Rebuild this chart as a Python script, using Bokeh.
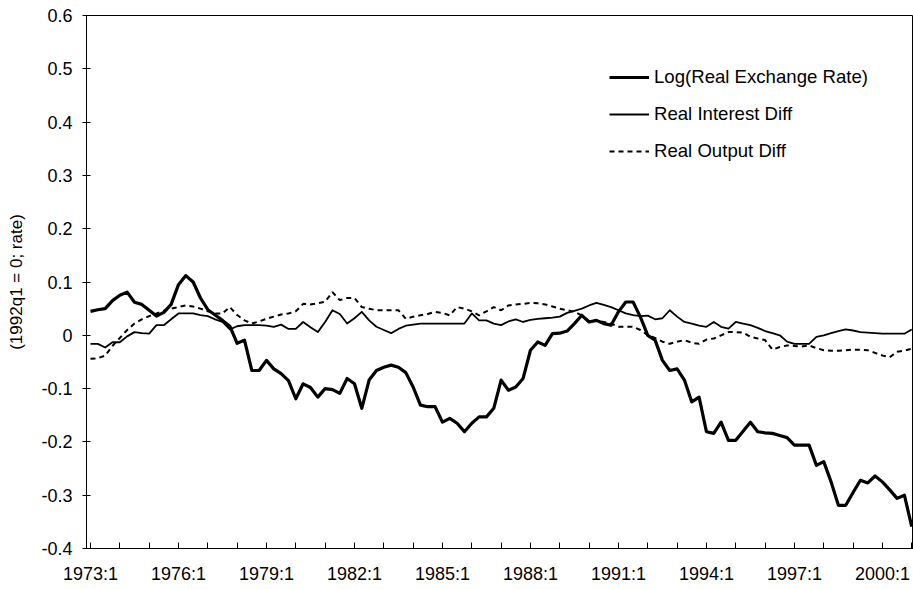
from bokeh.plotting import figure
from bokeh.models import FixedTicker, Legend, LegendItem, Range1d
from bokeh.embed import file_html
from bokeh.resources import INLINE

start_year = 1973
tick_years = list(range(1973, 2002))
label_years = [1973, 1976, 1979, 1982, 1985, 1988, 1991, 1994, 1997, 2000]
y_ticks = [-0.4, -0.3, -0.2, -0.1, 0.0, 0.1, 0.2, 0.3, 0.4, 0.5, 0.6]
y_labels = ["-0.4", "-0.3", "-0.2", "-0.1", "0", "0.1", "0.2", "0.3", "0.4", "0.5", "0.6"]

log_real_exchange_rate = [
    0.045, 0.048, 0.050, 0.065, 0.075, 0.081, 0.062, 0.058,
    0.047, 0.036, 0.043, 0.058, 0.095, 0.112, 0.100, 0.070,
    0.048, 0.038, 0.028, 0.017, -0.015, -0.009, -0.066, -0.066,
    -0.047, -0.063, -0.072, -0.085, -0.119, -0.091, -0.098, -0.116,
    -0.100, -0.102, -0.109, -0.081, -0.091, -0.137, -0.084, -0.066,
    -0.060, -0.056, -0.060, -0.070, -0.097, -0.131, -0.134, -0.134,
    -0.163, -0.156, -0.165, -0.181, -0.165, -0.153, -0.153, -0.137,
    -0.084, -0.103, -0.097, -0.081, -0.028, -0.0125, -0.019, 0.003,
    0.004, 0.008, 0.022, 0.0375, 0.025, 0.028, 0.022, 0.019,
    0.044, 0.0625, 0.0625, 0.034, 0.000, -0.009, -0.047, -0.066,
    -0.063, -0.084, -0.125, -0.116, -0.181, -0.184, -0.163, -0.197,
    -0.197, -0.180, -0.163, -0.181, -0.183, -0.184, -0.188, -0.192,
    -0.206, -0.206, -0.206, -0.244, -0.237, -0.275, -0.319, -0.319,
    -0.295, -0.272, -0.277, -0.264, -0.275, -0.290, -0.306, -0.300,
    -0.359,
]

real_interest_diff = [
    -0.016, -0.016, -0.023, -0.013, -0.013, -0.002, 0.006, 0.004,
    0.003, 0.019, 0.019, 0.030, 0.041, 0.041, 0.041, 0.038,
    0.036, 0.030, 0.025, 0.011, 0.017, 0.019, 0.019, 0.019,
    0.018, 0.016, 0.020, 0.012, 0.012, 0.025, 0.015, 0.006,
    0.025, 0.047, 0.040, 0.022, 0.032, 0.044, 0.028, 0.016,
    0.010, 0.004, 0.012, 0.018, 0.020, 0.022, 0.022, 0.022,
    0.022, 0.022, 0.022, 0.022, 0.041, 0.028, 0.028, 0.022,
    0.019, 0.026, 0.030, 0.025, 0.029, 0.031, 0.032, 0.033,
    0.035, 0.042, 0.046, 0.050, 0.056, 0.061, 0.057, 0.053,
    0.047, 0.041, 0.038, 0.036, 0.037, 0.030, 0.032, 0.047,
    0.035, 0.025, 0.022, 0.018, 0.016, 0.025, 0.016, 0.0125,
    0.025, 0.022, 0.019, 0.014, 0.008, 0.004, 0.000, -0.012,
    -0.016, -0.016, -0.016, -0.003, 0.000, 0.004, 0.008, 0.011,
    0.009, 0.006, 0.005, 0.004, 0.003, 0.003, 0.003, 0.003,
    0.011,
]

real_output_diff = [
    -0.044, -0.043, -0.038, -0.020, -0.005, 0.010, 0.022, 0.030,
    0.036, 0.041, 0.046, 0.050, 0.053, 0.056, 0.054, 0.050,
    0.045, 0.041, 0.041, 0.053, 0.038, 0.028, 0.022, 0.026,
    0.031, 0.035, 0.039, 0.041, 0.045, 0.059, 0.058, 0.060,
    0.063, 0.081, 0.066, 0.070, 0.070, 0.053, 0.050, 0.047,
    0.047, 0.047, 0.047, 0.031, 0.035, 0.0375, 0.040, 0.044,
    0.042, 0.0375, 0.053, 0.050, 0.045, 0.0375, 0.045, 0.053,
    0.047, 0.056, 0.058, 0.059, 0.061, 0.060, 0.058, 0.054,
    0.050, 0.047, 0.044, 0.0375, 0.026, 0.028, 0.025, 0.022,
    0.016, 0.016, 0.016, 0.010, 0.000, -0.005, -0.012, -0.016,
    -0.012, -0.009, -0.014, -0.016, -0.008, -0.006, 0.000, 0.006,
    0.006, 0.005, -0.003, -0.006, -0.009, -0.027, -0.022, -0.019,
    -0.020, -0.021, -0.019, -0.024, -0.028, -0.029, -0.029, -0.028,
    -0.027, -0.027, -0.028, -0.033, -0.038, -0.041, -0.031, -0.029,
    -0.025,
]

quarters = [start_year + k / 4 for k in range(len(log_real_exchange_rate))]

FONT = "Liberation Sans"

p = figure(width=913, height=589, output_backend="svg", toolbar_location=None,
           x_range=Range1d(1972.864, 2001.06), y_range=Range1d(-0.4, 0.6),
           min_border_left=86, min_border_right=0, min_border_top=15, min_border_bottom=41)

p.xgrid.visible = False
p.ygrid.visible = False
p.outline_line_color = "black"
p.outline_line_width = 1
p.background_fill_color = "white"
p.border_fill_color = "white"

r_e = p.line(quarters, log_real_exchange_rate, line_color="black", line_width=3.2, line_join="round")
r_i = p.line(quarters, real_interest_diff, line_color="black", line_width=1.8, line_join="round")
r_o = p.line(quarters, real_output_diff, line_color="black", line_width=2, line_dash="5 4")

xa = p.xaxis[0]
xa.ticker = FixedTicker(ticks=tick_years, minor_ticks=[])
xa.major_label_overrides = {y: (f"{y}:1" if y in label_years else "") for y in tick_years}
xa.major_tick_in = 6
xa.major_tick_out = 0
xa.major_label_standoff = 15
xa.major_label_text_font = FONT
xa.major_label_text_font_size = "18px"
xa.major_label_text_color = "black"
xa.axis_line_color = "black"
xa.major_tick_line_color = "black"

ya = p.yaxis[0]
ya.ticker = FixedTicker(ticks=y_ticks, minor_ticks=[])
ya.major_label_overrides = {t: l for t, l in zip(y_ticks, y_labels)}
ya.major_tick_in = 4
ya.major_tick_out = 4
ya.major_label_standoff = 10
ya.major_label_text_font = FONT
ya.major_label_text_font_size = "18px"
ya.major_label_text_color = "black"
ya.axis_label = "(1992q1 = 0; rate)"
ya.axis_label_text_font = FONT
ya.axis_label_text_font_size = "17px"
ya.axis_label_text_font_style = "normal"
ya.axis_label_text_color = "black"
ya.axis_label_standoff = 12
ya.axis_line_color = "black"
ya.major_tick_line_color = "black"

legend = Legend(items=[
    LegendItem(label="Log(Real Exchange Rate)", renderers=[r_e]),
    LegendItem(label="Real Interest Diff", renderers=[r_i]),
    LegendItem(label="Real Output Diff", renderers=[r_o]),
], location=(523, 386))
legend.label_text_font = FONT
legend.label_text_font_size = "18.6px"
legend.label_text_color = "black"
legend.glyph_width = 40
legend.glyph_height = 22
legend.label_height = 22
legend.spacing = 15
legend.padding = 0
legend.margin = 0
legend.label_standoff = 5
legend.border_line_color = None
legend.background_fill_alpha = 0
p.add_layout(legend)

open("out.html", "w").write(file_html(p, INLINE))
